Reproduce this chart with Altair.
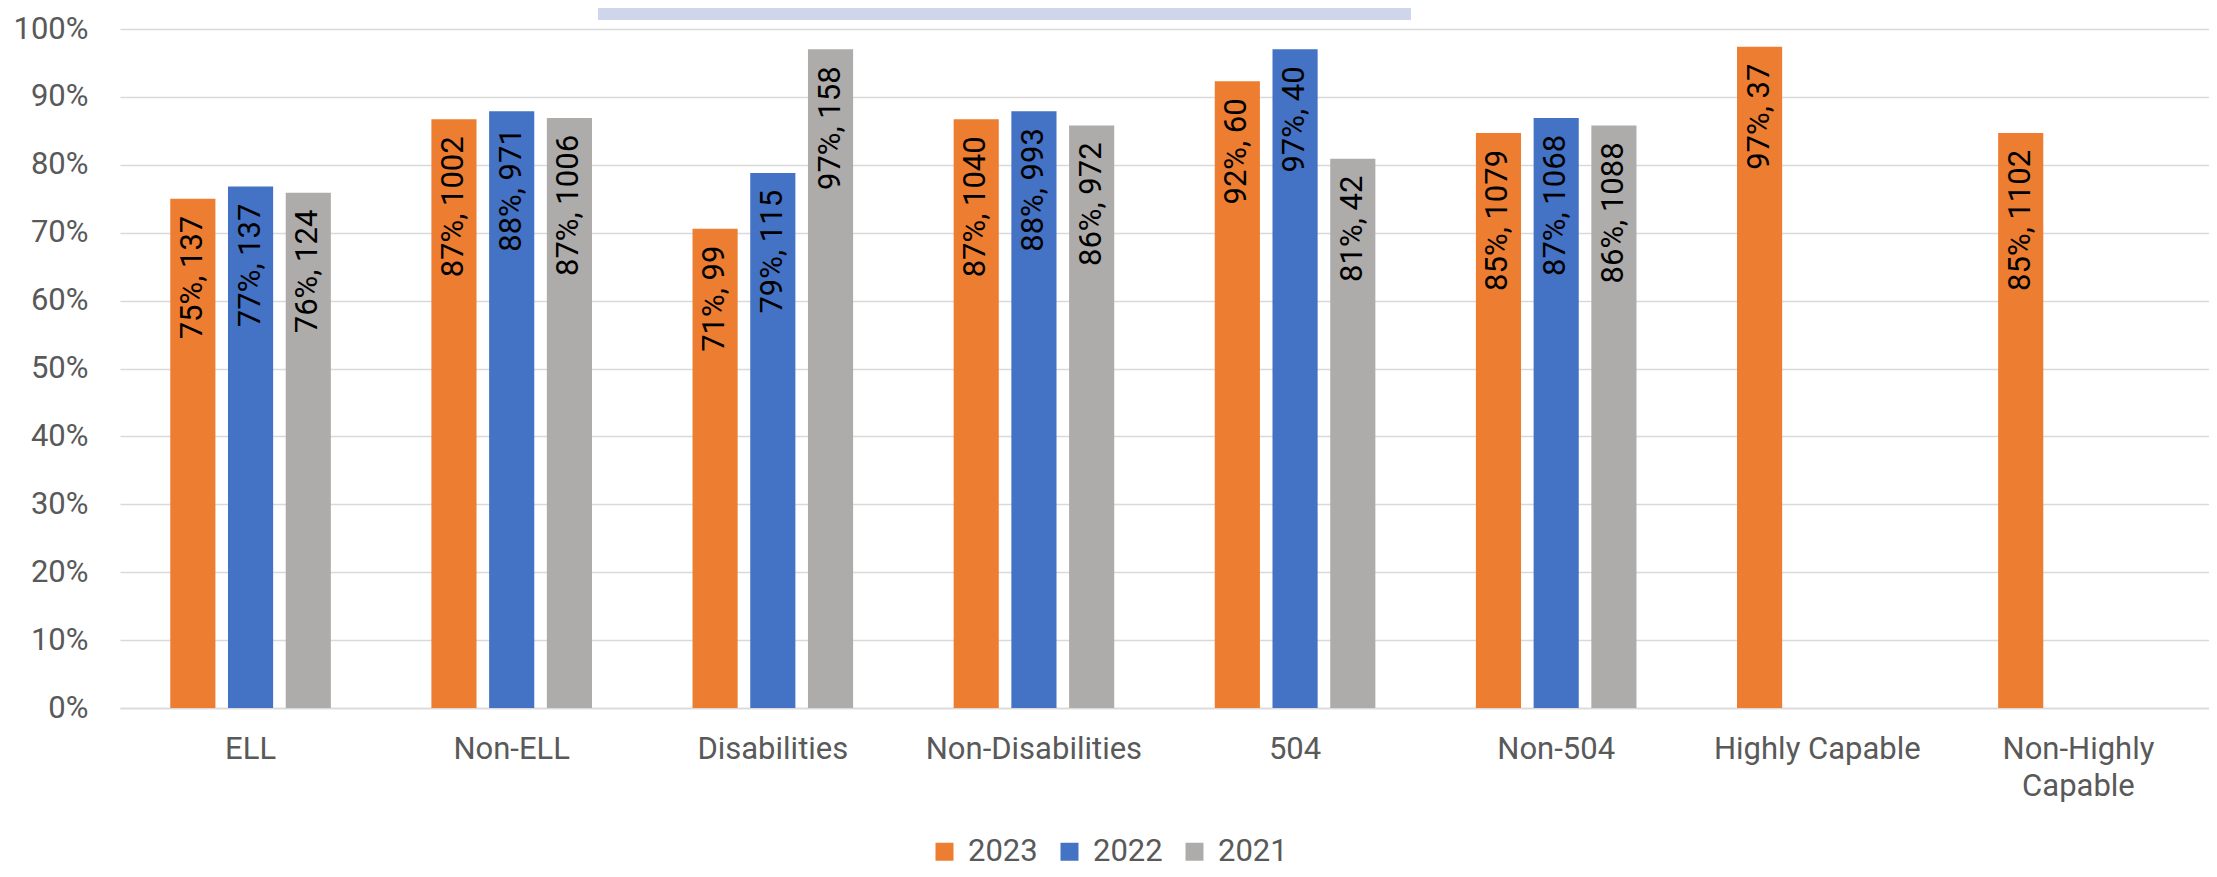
import altair as alt
import pandas as pd

categories = ["ELL", "Non-ELL", "Disabilities", "Non-Disabilities", "504",
              "Non-504", "Highly Capable", "Non-Highly Capable"]
years = ["2023", "2022", "2021"]
colors = ["#ED7D31", "#4472C4", "#AEABAB"]

pct_2023 = [75.0, 86.7, 70.6, 86.7, 92.3, 84.7, 97.4, 84.7]
n_2023 = [137, 1002, 99, 1040, 60, 1079, 37, 1102]
pct_2022 = [76.8, 87.9, 78.8, 87.9, 97.0, 86.9, None, None]
n_2022 = [137, 971, 115, 993, 40, 1068, None, None]
pct_2021 = [75.9, 86.9, 97.0, 85.8, 80.9, 85.8, None, None]
n_2021 = [124, 1006, 158, 972, 42, 1088, None, None]

y_ticks = list(range(0, 101, 10))

series = {"2023": (pct_2023, n_2023), "2022": (pct_2022, n_2022), "2021": (pct_2021, n_2021)}
rows = []
for yr in years:
    pcts, ns = series[yr]
    for cat, p, n in zip(categories, pcts, ns):
        if p is None:
            continue
        rows.append({"Category": cat, "Year": yr, "Value": p, "Label": f"{p:.0f}%, {n}"})
df = pd.DataFrame(rows)

FONT = "Roboto"
GRAY_TXT = "#595959"

x_enc = alt.X(
    "Category:N", sort=categories,
    scale=alt.Scale(paddingInner=0.385, paddingOuter=0.1925),
    axis=alt.Axis(
        title=None, labelAngle=0, ticks=False, domain=True,
        domainColor="#D9D9D9", domainWidth=1.5, labelPadding=26,
        labelLineHeight=37, labelLimit=0,
        labelExpr="datum.label == 'Non-Highly Capable' ? ['Non-Highly', 'Capable'] : datum.label",
    ),
)
xoff_enc = alt.XOffset("Year:N", sort=years,
                       scale=alt.Scale(domain=years, paddingInner=0.218, paddingOuter=0))
y_enc = alt.Y(
    "Value:Q",
    scale=alt.Scale(domain=[0, 100], nice=False),
    axis=alt.Axis(
        title=None, values=y_ticks, labelExpr="datum.value + '%'",
        domain=False, ticks=False, gridColor="#D9D9D9", gridWidth=1.5,
        labelPadding=32,
    ),
)

base = alt.Chart(df)

bars = base.mark_bar().encode(
    x=x_enc, xOffset=xoff_enc, y=y_enc,
    color=alt.Color(
        "Year:N", sort=years,
        scale=alt.Scale(domain=years, range=colors),
        legend=alt.Legend(
            title=None, orient="none", direction="horizontal",
            legendX=809, legendY=807, padding=0,
            symbolType="square", symbolSize=324, symbolStrokeWidth=0,
            labelFont=FONT, labelFontSize=31, labelColor=GRAY_TXT,
            labelOffset=8, columnPadding=16, labelLimit=0,
        ),
    ),
)

labels = base.mark_text(
    angle=270, align="right", baseline="middle", dx=-17,
    font=FONT, fontSize=31, color="#000000",
).encode(x=x_enc, xOffset=xoff_enc, y=y_enc, text="Label:N")

title_box = alt.Chart(pd.DataFrame({"k": [1]})).mark_rect(color="#CFD5EA").encode(
    x=alt.value(478), x2=alt.value(1291), y=alt.value(-29), y2=alt.value(-9)
)

chart = alt.layer(title_box, bars, labels).properties(
    width=2089, height=679,
    autosize=alt.AutoSizeParams(type="none"),
    padding={"left": 112, "top": 21, "right": 0, "bottom": 161},
    background="white",
).configure_view(stroke=None).configure_axis(
    labelFont=FONT, labelFontSize=31, labelColor=GRAY_TXT,
)

chart.save("out.html", embed_options={"renderer": "svg", "actions": False})
